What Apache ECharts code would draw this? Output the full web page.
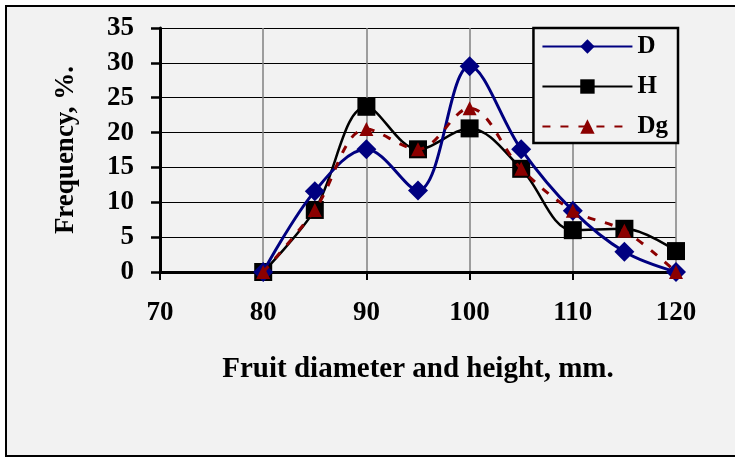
<!DOCTYPE html>
<html>
<head>
<meta charset="utf-8">
<script src="https://cdn.jsdelivr.net/npm/echarts@6/dist/echarts.min.js"></script>
<style>
  html, body { margin: 0; padding: 0; background: #ffffff; overflow: hidden; }
  #frame { position: absolute; left: 5px; top: 5px; width: 800px; height: 448px;
           border: 2px solid #000; background: #f2f2f2; }
  #chart { position: absolute; left: 0; top: 0; width: 735px; height: 458px; }
</style>
</head>
<body>
<div id="frame"></div>
<div id="chart"></div>
<script>
// fruit size classes, mm
const sizes = [80, 85, 90, 95, 100, 105, 110, 115, 120];
// frequency, %
const dValues = [0, 11.6, 17.6, 11.7, 29.5, 17.6, 8.8, 2.9, 0];
const hValues = [0, 8.9, 23.7, 17.6, 20.6, 14.8, 6.0, 6.2, 3.0];
const dgValues = [0, 8.9, 20.5, 17.6, 23.5, 14.8, 8.8, 5.9, 0];

const xTicks = [70, 80, 90, 100, 110, 120];
const yTicks = [0, 5, 10, 15, 20, 25, 30, 35];

const pair = (vals) => sizes.map((s, i) => [s, vals[i]]);

const font = "'Liberation Serif', 'Times New Roman', serif";
const chart = echarts.init(document.getElementById("chart"));

chart.setOption({
  animation: false,
  textStyle: { fontFamily: font },
  grid: { left: 160, right: 59, top: 28, bottom: 186 },
  legend: {
    orient: "vertical",
    right: 57,
    top: 28,
    padding: [6, 10, 4, 8],
    itemWidth: 90,
    itemHeight: 18,
    itemGap: 15,
    backgroundColor: "#f2f2f2",
    borderColor: "#000",
    borderWidth: 2.5,
    textStyle: { fontFamily: font, fontWeight: "bold", fontSize: 25, color: "#000" },
    data: ["D", "H", "Dg"]
  },
  xAxis: {
    type: "value",
    min: xTicks[0],
    max: xTicks[xTicks.length - 1],
    interval: 10,
    name: "Fruit diameter and height, mm.",
    nameLocation: "middle",
    nameGap: 83,
    nameTextStyle: { fontFamily: font, fontWeight: "bold", fontSize: 29, color: "#000" },
    axisLine: { onZero: false, lineStyle: { color: "#000", width: 3 } },
    axisTick: { length: 8, lineStyle: { color: "#000", width: 2 } },
    axisLabel: { margin: 28, fontFamily: font, fontWeight: "bold", fontSize: 27, color: "#000" },
    splitLine: { show: true, lineStyle: { color: "#808080", width: 1.5 } }
  },
  yAxis: {
    type: "value",
    min: yTicks[0],
    max: yTicks[yTicks.length - 1],
    interval: 5,
    name: "Frequency, %.",
    nameLocation: "middle",
    nameGap: 80,
    nameTextStyle: { fontFamily: font, fontWeight: "bold", fontSize: 27, color: "#000" },
    axisLine: { show: true, lineStyle: { color: "#000", width: 3 } },
    axisTick: { show: true, length: 9, lineStyle: { color: "#000", width: 2.5 } },
    axisLabel: { margin: 26, fontFamily: font, fontWeight: "bold", fontSize: 27, color: "#000" },
    splitLine: { show: true, lineStyle: { color: "#000", width: 1 } }
  },
  series: [
    {
      name: "D",
      type: "line",
      data: pair(dValues),
      smooth: 0.35,
      symbol: "diamond",
      symbolSize: 20,
      itemStyle: { color: "#000080" },
      lineStyle: { color: "#000080", width: 3 },
      z: 4
    },
    {
      name: "H",
      type: "line",
      data: pair(hValues),
      smooth: 0.35,
      symbol: "rect",
      symbolSize: 18,
      itemStyle: { color: "#000" },
      lineStyle: { color: "#000", width: 2.5 },
      z: 3
    },
    {
      name: "Dg",
      type: "line",
      data: pair(dgValues),
      smooth: 0.35,
      symbol: "triangle",
      symbolSize: 14,
      itemStyle: { color: "#8b0000" },
      lineStyle: { color: "#8b0000", width: 3, type: [8, 10] },
      z: 5
    }
  ]
});
</script>
</body>
</html>
